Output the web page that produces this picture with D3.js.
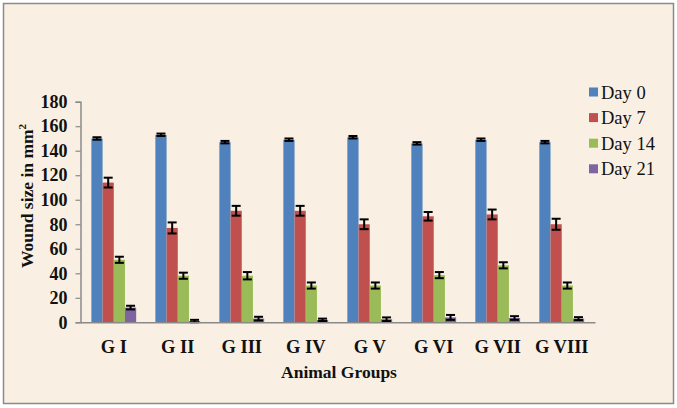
<!DOCTYPE html>
<html>
<head>
<meta charset="utf-8">
<script src="https://cdn.jsdelivr.net/npm/d3@7"></script>
<style>
html,body{margin:0;padding:0;background:#fff;}
svg{display:block;}
</style>
</head>
<body>
<svg id="chart" width="677" height="408"></svg>
<script>
const groups = ["G I","G II","G III","G IV","G V","G VI","G VII","G VIII"];
const seriesNames = ["Day 0","Day 7","Day 14","Day 21"];
const seriesColors = ["#4F81BD","#C0504D","#9BBB59","#8064A2"];
const day0 = [150,153,147,149,151,146,149,147];
const day7 = [114,77,91,91,80,86.5,88,80];
const day14 = [51,38,38,30,30,38.5,46.5,30];
const day21 = [12,1,3,2,2.5,4,3.5,3];
const err0 = [1,1,1,1,1,1,1,1];
const err7 = [4,4.5,4,4,4,3.5,4,4.5];
const err14 = [2.5,2.5,3,2.5,2.5,2.5,2.5,2.5];
const err21 = [1.5,1,1.5,1,1.5,2,1.5,1.2];
const yTicks = [0,20,40,60,80,100,120,140,160,180];

const FONT = "'Liberation Serif', 'Times New Roman', serif";
const values = [day0, day7, day14, day21];
const errs = [err0, err7, err14, err21];

const svg = d3.select("#chart").attr("font-family", FONT);
svg.append("rect").attr("x",0).attr("y",0).attr("width",677).attr("height",408).attr("fill","#ffffff");
svg.append("rect").attr("x",3.5).attr("y",3.5).attr("width",670).attr("height",400)
  .attr("fill","#F9F0E3").attr("stroke","#8a8a8a").attr("stroke-width",1.5);

const x0 = d3.scaleBand().domain(groups).range([80.5,595]).paddingInner(0.3).paddingOuter(0.17);
const x1 = d3.scaleBand().domain(seriesNames).range([0,x0.bandwidth()]);
const y = d3.scaleLinear().domain([0,180]).range([322.3,101.7]);

const data = [];
groups.forEach((g,gi)=>{
  seriesNames.forEach((s,si)=>{
    data.push({g, s, si, v: values[si][gi], e: errs[si][gi]});
  });
});

svg.append("g").selectAll("rect").data(data).join("rect")
  .attr("x", d=>x0(d.g)+x1(d.s))
  .attr("y", d=>y(d.v))
  .attr("width", x1.bandwidth())
  .attr("height", d=>y(0)-y(d.v))
  .attr("fill", d=>seriesColors[d.si]);

const eg = svg.append("g").attr("stroke","#000").attr("stroke-width",2);
data.forEach(d=>{
  const cx = x0(d.g)+x1(d.s)+x1.bandwidth()/2;
  const lo = Math.max(0, d.v-d.e), hi = d.v+d.e;
  eg.append("line").attr("x1",cx).attr("x2",cx).attr("y1",y(lo)).attr("y2",y(hi));
  eg.append("line").attr("x1",cx-4.5).attr("x2",cx+4.5).attr("y1",y(hi)).attr("y2",y(hi));
  eg.append("line").attr("x1",cx-4.5).attr("x2",cx+4.5).attr("y1",y(lo)).attr("y2",y(lo));
});

const yAxis = d3.axisLeft(y).tickValues(yTicks).tickSize(5).tickPadding(8).tickFormat(d3.format("d"));
const ya = svg.append("g").attr("transform","translate(80.5,0)").call(yAxis)
  .attr("font-family", FONT);
ya.select(".domain").attr("stroke","#8a8a8a").attr("stroke-width",1.5);
ya.selectAll(".tick line").attr("stroke","#8a8a8a").attr("stroke-width",1.2);
ya.selectAll(".tick text").attr("font-family",FONT)
  .attr("font-size",18).attr("font-weight","bold").attr("fill","#111");

const xAxis = d3.axisBottom(x0).tickSize(0).tickPadding(18);
const xa = svg.append("g").attr("transform","translate(0,322.3)").call(xAxis)
  .attr("font-family", FONT);
xa.select(".domain").attr("stroke","#8a8a8a").attr("stroke-width",1.5);
xa.selectAll(".tick text").attr("font-family",FONT)
  .attr("font-size",18.5).attr("font-weight","bold").attr("fill","#111");

svg.append("text").attr("x",339).attr("y",377.5).attr("text-anchor","middle")
  .attr("font-family",FONT).attr("font-size",17.5).attr("font-weight","bold").attr("fill","#111").text("Animal Groups");

const yl = svg.append("text").attr("transform","translate(33,196) rotate(-90)")
  .attr("font-family",FONT).attr("text-anchor","middle").attr("font-size",17.5).attr("font-weight","bold").attr("fill","#111");
yl.append("tspan").text("Wound size in mm");
yl.append("tspan").attr("font-size",11).attr("dy",-7).text("2");

const lg = svg.append("g");
seriesNames.forEach((s,i)=>{
  const yy = 92.5 + i*25.6;
  lg.append("rect").attr("x",589).attr("y",yy-5).attr("width",9).attr("height",9).attr("fill",seriesColors[i]);
  lg.append("text").attr("x",601).attr("y",yy+6).attr("font-family",FONT).attr("font-size",18.5).attr("fill","#111").text(s);
});
</script>
</body>
</html>
